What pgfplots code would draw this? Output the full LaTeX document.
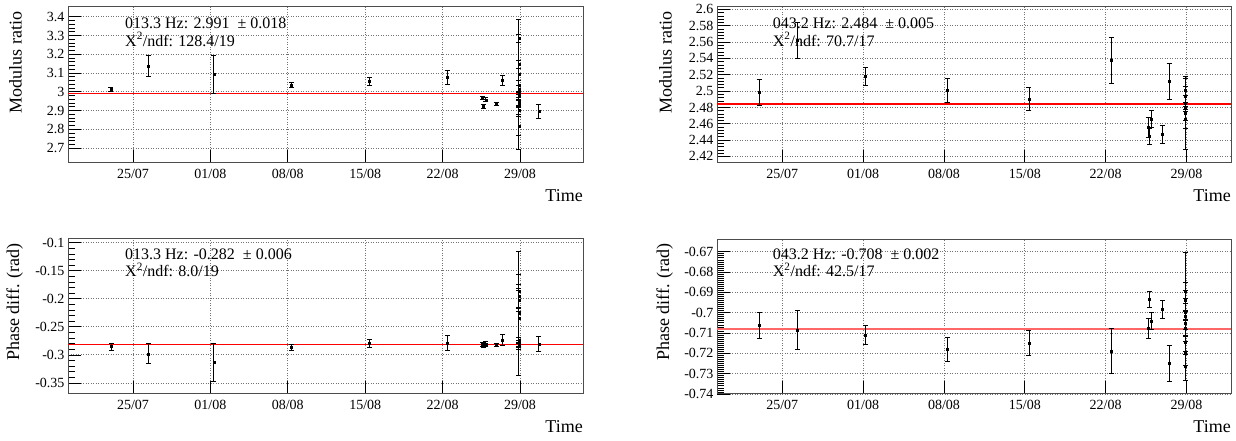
\documentclass[border=0pt]{standalone}
\usepackage{fontspec}
\setmainfont{Liberation Serif}
\usepackage{pgfplots}
\pgfplotsset{compat=1.18}
\usepackage{pgfplotstable}

% x = days after 25/07
\pgfplotstableread{
x y e
-2.0 3.015 0.011
1.4 3.136 0.056
7.3 3.092 0.103
14.3 3.038 0.014
21.4 3.056 0.023
28.4 3.077 0.037
31.6 2.967 0.008
31.7 2.922 0.012
31.9 2.958 0.010
32.85 2.935 0.006
33.4 3.060 0.025
34.9 3.284 0.020
34.9 3.145 0.020
34.9 3.092 0.030
34.9 3.038 0.347
34.9 3.015 0.020
34.9 2.985 0.015
34.9 2.976 0.020
34.9 2.958 0.030
34.9 2.937 0.020
34.9 2.900 0.020
34.9 2.819 0.050
36.7 2.895 0.036
}\modA

\pgfplotstableread{
x y e
-2.0 2.4985 0.0155
1.33 2.562 0.022
7.22 2.518 0.011
14.3 2.5006 0.0147
21.36 2.4904 0.014
28.46 2.5374 0.028
31.7 2.4556 0.012
31.8 2.4445 0.0096
31.98 2.466 0.010
32.9 2.447 0.011
33.5 2.512 0.022
34.9 2.501 0.015
34.9 2.4936 0.012
34.9 2.4847 0.010
34.9 2.4794 0.015
34.9 2.473 0.045
34.9 2.466 0.012
}\modB

\pgfplotstableread{
x y e
-1.93 -0.2853 0.006
1.38 -0.2978 0.018
7.3 -0.3138 0.034
14.3 -0.287 0.005
21.4 -0.2793 0.007
28.4 -0.279 0.013
31.6 -0.281 0.004
31.7 -0.2835 0.004
31.9 -0.280 0.004
32.85 -0.2823 0.003
33.4 -0.2733 0.009
34.9 -0.1873 0.030
34.9 -0.195 0.020
34.9 -0.2021 0.020
34.9 -0.2347 0.050
34.9 -0.226 0.110
34.9 -0.2746 0.005
34.9 -0.2793 0.005
34.9 -0.2823 0.005
34.9 -0.2853 0.005
36.7 -0.2805 0.013
}\phaA

\pgfplotstableread{
x y e
-2.0 -0.7061 0.0064
1.33 -0.7085 0.0094
7.22 -0.711 0.0047
14.3 -0.7179 0.0059
21.36 -0.7148 0.006
28.46 -0.7187 0.0112
31.7 -0.7077 0.005
31.8 -0.6934 0.0039
31.98 -0.7041 0.0041
32.9 -0.6983 0.0045
33.5 -0.7249 0.009
34.9 -0.6892 0.004
34.9 -0.6938 0.005
34.9 -0.6995 0.004
34.9 -0.7018 0.0317
34.9 -0.7052 0.006
34.9 -0.7077 0.004
34.9 -0.7143 0.006
34.9 -0.72 0.006
34.9 -0.7262 0.007
}\phaB

\pgfplotsset{
  rootstyle/.style={
    scale only axis, width=515pt,
    axis line style={draw=black!70, line width=1pt},
    tick align=inside, xtick pos=lower, ytick pos=left,
    major tick length=13pt, minor tick length=7pt,
    every tick/.style={black, line width=0.8pt},
    grid=major, major grid style={black!55, line width=0.9pt, dash pattern=on 1pt off 1.5pt},
    xtick={0,7,14,21,28,35},
    xticklabels={25/07,01/08,08/08,15/08,22/08,29/08},
    ticklabel style={font=\fontsize{14}{16}\selectfont},
    /pgf/number format/assume math mode=true,
    xticklabel style={yshift=-3pt},
    xlabel={Time},
    xlabel style={at={(axis description cs:1,0)}, anchor=north east, inner sep=0pt, yshift=-26pt, font=\fontsize{18}{20}\selectfont},
    ylabel style={anchor=south east, inner sep=0pt, font=\fontsize{18}{20}\selectfont},
  },
  pts/.style={black, mark=square*, mark size=1pt, only marks,
    error bars/.cd, y dir=both, y explicit,
    error bar style={line width=0.9pt, black},
    error mark options={rotate=90, mark size=2.5pt, line width=0.9pt, black}},
}
\tikzset{ann/.style={anchor=base west, inner sep=0pt, font=\fontsize{16}{18}\selectfont}}

\begin{document}
\begin{tikzpicture}
\useasboundingbox (0,0) rectangle (1236pt,441pt);

% Top left
\begin{axis}[rootstyle, height=156pt, at={(68pt,278pt)}, anchor=south west,
  xmin=-5.88, xmax=40.7, ymin=2.621, ymax=3.452,
  ytick={2.7,2.8,2.9,3,3.1,3.2,3.3,3.4}, minor y tick num=4,
  ylabel={Modulus ratio},
  ylabel style={at={(axis description cs:-0.0893,0.971)}}]
\addplot[red, line width=1.2pt] coordinates {(-5.88,2.991) (40.7,2.991)};
\addplot[pts] table[x=x, y=y, y error=e] {\modA};
\node[ann] at (axis description cs:0.1107,0.860) {013.3 Hz: 2.991\ \ ± 0.018};
\node[ann] at (axis description cs:0.1107,0.749) {X\textsuperscript{2}/ndf: 128.4/19};
\end{axis}

% Top right
\begin{axis}[rootstyle, height=156pt, width=514pt, at={(717pt,278pt)}, anchor=south west,
  xmin=-5.65, xmax=38.85, ymin=2.412, ymax=2.603,
  ytick={2.42,2.44,2.46,2.48,2.5,2.52,2.54,2.56,2.58,2.6}, minor y tick num=4,
  yticklabel style={/pgf/number format/precision=3},
  ylabel={Modulus ratio},
  ylabel style={at={(axis description cs:-0.0875,0.971)}}]
\addplot[red, line width=1.4pt] coordinates {(-5.65,2.484) (38.85,2.484)};
\node[ann] at (axis description cs:0.1084,0.860) {043.2 Hz: 2.484\ \ ± 0.005};
\node[ann] at (axis description cs:0.1084,0.749) {X\textsuperscript{2}/ndf: 70.7/17};
\addplot[pts] table[x=x, y=y, y error=e] {\modB};
\end{axis}

% Bottom left
\begin{axis}[rootstyle, height=155pt, at={(68pt,47pt)}, anchor=south west,
  xmin=-5.88, xmax=40.7, ymin=-0.3696, ymax=-0.0934,
  ytick={-0.35,-0.3,-0.25,-0.2,-0.15,-0.1}, minor y tick num=4,
  ylabel={Phase diff. (rad)},
  ylabel style={at={(axis description cs:-0.087,0.974)}}]
\addplot[red, line width=1.2pt] coordinates {(-5.88,-0.282) (40.7,-0.282)};
\addplot[pts] table[x=x, y=y, y error=e] {\phaA};
\node[ann] at (axis description cs:0.1107,0.869) {013.3 Hz: -0.282\ \ ± 0.006};
\node[ann] at (axis description cs:0.1107,0.757) {X\textsuperscript{2}/ndf: 8.0/19};
\end{axis}

% Bottom right
\begin{axis}[rootstyle, height=155pt, width=514pt, at={(717pt,47pt)}, anchor=south west,
  xmin=-5.65, xmax=38.85, ymin=-0.74, ymax=-0.6637,
  ytick={-0.74,-0.73,-0.72,-0.71,-0.7,-0.69,-0.68,-0.67}, minor y tick num=9,
  ylabel={Phase diff. (rad)},
  ylabel style={at={(axis description cs:-0.0855,0.974)}}]
\addplot[red!60, line width=2pt] coordinates {(-5.65,-0.708) (38.85,-0.708)};
\addplot[pts] table[x=x, y=y, y error=e] {\phaB};
\node[ann] at (axis description cs:0.1084,0.869) {043.2 Hz: -0.708\ \ ± 0.002};
\node[ann] at (axis description cs:0.1084,0.757) {X\textsuperscript{2}/ndf: 42.5/17};
\end{axis}
\end{tikzpicture}
\end{document}
